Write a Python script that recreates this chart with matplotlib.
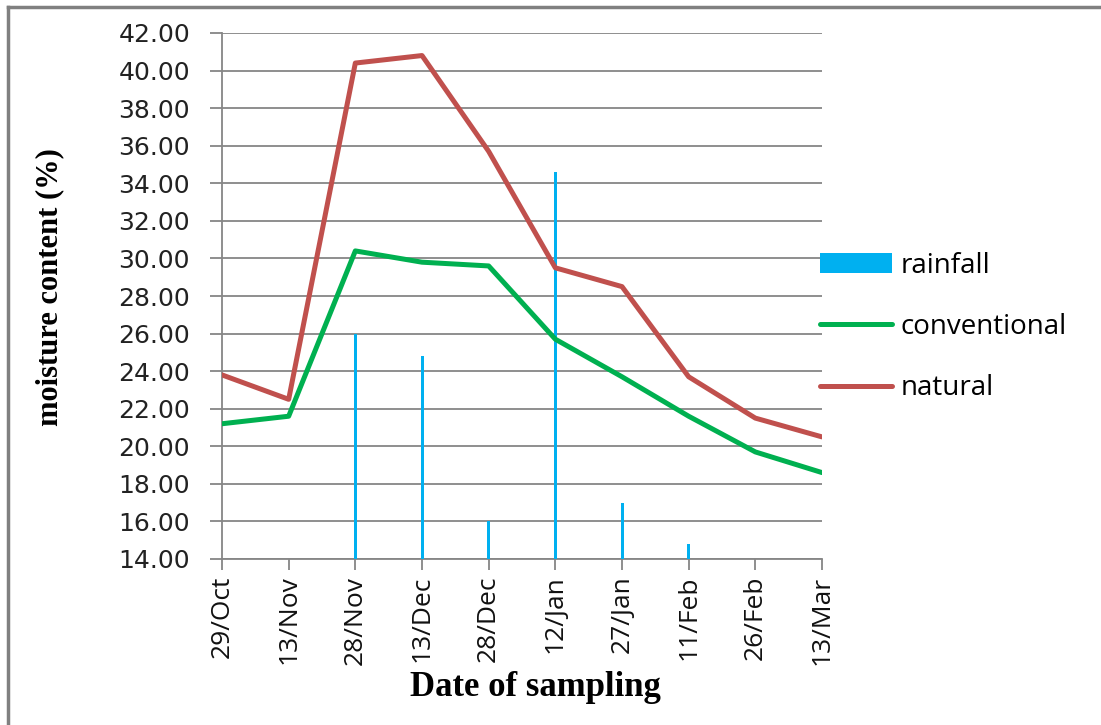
import matplotlib.pyplot as plt
from matplotlib.lines import Line2D
import numpy as np

# data
dates = ['29/Oct', '13/Nov', '28/Nov', '13/Dec', '28/Dec',
         '12/Jan', '27/Jan', '11/Feb', '26/Feb', '13/Mar']
rainfall = [0, 0, 26.0, 24.8, 16.0, 34.6, 17.0, 14.8, 0, 0]
conventional = [21.2, 21.6, 30.4, 29.8, 29.6, 25.7, 23.7, 21.6, 19.7, 18.6]
natural = [23.8, 22.5, 40.4, 40.8, 35.7, 29.5, 28.5, 23.7, 21.5, 20.5]
yticks = np.arange(14, 42.1, 2)

grey = '#868686'

fig = plt.figure(figsize=(11.01, 7.25), dpi=100)
ax = fig.add_axes([222 / 1101, 1 - 559 / 725, 600 / 1101, 526 / 725])

x = np.arange(len(dates))
bars = ax.bar(x, rainfall, width=0.045, color='#00B0F0', label='rainfall', zorder=3)
l_conv, = ax.plot(x, conventional, color='#00B050', lw=3.6, label='conventional',
                  solid_capstyle='round', zorder=4)
l_nat, = ax.plot(x, natural, color='#C0504D', lw=3.6, label='natural',
                 solid_capstyle='round', zorder=5)

ax.set_xlim(0, len(dates) - 1)
ax.set_ylim(14, 42)
ax.set_yticks(yticks)
ax.set_yticklabels(['%.2f' % v for v in yticks], fontsize=18,
                   family='DejaVu Sans', color='#222222')
ax.set_xticks(x)
ax.set_xticklabels(dates, rotation=90, fontsize=19, family='Open Sans',
                   color='#111111')

ax.grid(axis='y', color=grey, lw=1.3, zorder=0)
for s in ['top', 'right']:
    ax.spines[s].set_visible(False)
for s in ['left', 'bottom']:
    ax.spines[s].set_color(grey)
    ax.spines[s].set_linewidth(1.3)
ax.tick_params(axis='y', length=9, width=1.3, color=grey, pad=14)
ax.tick_params(axis='x', length=8, width=1.3, color=grey, pad=4)

fig.legend([bars, l_conv, l_nat], ['rainfall', 'conventional', 'natural'],
           loc='center left', bbox_to_anchor=(0.745, 0.549),
           bbox_transform=fig.transFigure, frameon=False,
           prop={'family': 'Open Sans', 'size': 20},
           handlelength=2.6, handletextpad=0.3, labelspacing=1.2,
           borderpad=0, borderaxespad=0)

fig.text(50 / 1101, 1 - 287 / 725, 'moisture content (%)', rotation=90,
         ha='center', va='center', fontsize=22, fontweight='bold',
         family='Liberation Serif')
fig.text(535 / 1101, 1 - 688 / 725, 'Date of sampling', ha='center',
         va='center', fontsize=25, fontweight='bold', family='Liberation Serif')

# outer frame (top and left edges only)
fig.add_artist(Line2D([8 / 1101, 1], [1 - 7 / 725, 1 - 7 / 725],
                      transform=fig.transFigure, color='#808080', lw=2.5))
fig.add_artist(Line2D([8 / 1101, 8 / 1101], [0, 1 - 7 / 725],
                      transform=fig.transFigure, color='#808080', lw=2.5))

fig.savefig('out.png', dpi=100)
